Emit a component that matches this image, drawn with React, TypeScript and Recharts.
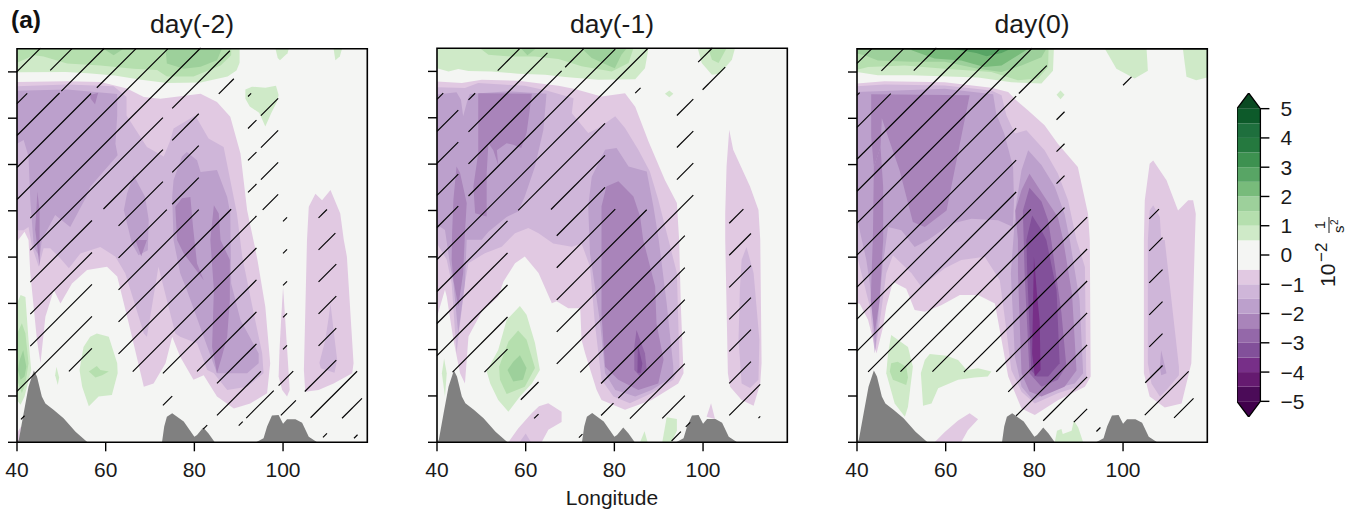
import React from 'react';
import { ScatterChart, Scatter, XAxis, YAxis } from 'recharts';

type Pt = [number, number];
type Contour = [string, Pt[]];
type HatchRow = [number, number, number];

const FONT = '"Liberation Sans", Arial, sans-serif';
const longitudeTicks = [40, 60, 80, 100];
const levelTicks = [0, 1, 2, 3, 4, 5, 6, 7, 8];
const lonDomain: Pt = [40, 119];
const levDomain: Pt = [0, 8.5];
const titles = ['day(-2)', 'day(-1)', 'day(0)'];

const ZERO = '#f4f5f3';
const G1 = '#cfeac8', G2 = '#b5dfae', G3 = '#9dd09b', G4 = '#78bb7b', G5 = '#58a565';
const N1 = '#e1c9e2', N2 = '#cfb6d9', N3 = '#bca0cc', N4 = '#a984ba', N5 = '#9468a9', N6 = '#82509a', N7 = '#772f88';
const TERRAIN = '#808080';

const colorbarLevels = [-5, -4.5, -4, -3.5, -3, -2.5, -2, -1.5, -1, -0.5, 0.5, 1, 1.5, 2, 2.5, 3, 3.5, 4, 4.5, 5];
const colorbarColors = ['#4b0b58', '#651a70', '#772f88', '#82509a', '#9468a9', '#a984ba', '#bca0cc', '#cfb6d9', '#e1c9e2', '#f4f5f3', '#cfeac8', '#b5dfae', '#9dd09b', '#78bb7b', '#58a565', '#3d9150', '#25793f', '#1e6f3d', '#0d5a2a'];
const colorbarTicks = [-5, -4, -3, -2, -1, 0, 1, 2, 3, 4, 5];

const terrain: Pt[][] = [
  [[40, 0], [40.4, 0.05], [41.5, 0.63], [42.6, 1.2], [43.8, 1.55], [44.5, 1.42], [45.6, 0.99], [46.4, 0.84], [48.3, 0.7], [50.5, 0.52], [53.2, 0.23], [55.9, 0]],
  [[72.7, 0], [73.2, 0.34], [73.8, 0.55], [75, 0.63], [77.6, 0.45], [78.7, 0.3], [80, 0.12], [80.6, 0.16], [82, 0.32], [83.2, 0.19], [84.6, 0]],
  [[93.9, 0], [95.6, 0.09], [96.4, 0.34], [97.5, 0.58], [99, 0.59], [100, 0.4], [100.9, 0.5], [102.8, 0.5], [104.3, 0.42], [105.8, 0.12], [107.7, 0]],
];

const day2Contours: Contour[] = [
  [G1, [[40, 8.5], [90.2, 8.5], [90.2, 8.2], [89.5, 8.03], [87.5, 7.9], [81.4, 7.77], [73.8, 7.76], [68, 7.83], [62, 7.92], [56, 7.97], [51, 8], [40, 7.99]]],
  [G2, [[40, 8.5], [88.3, 8.5], [88.3, 8.36], [85.9, 8.14], [79.8, 7.9], [73.8, 7.9], [71.6, 8.04], [66.3, 8.07], [58.8, 8.14], [51.3, 8.18], [46, 8.33], [43.8, 8.36], [40, 8.2]]],
  [G3, [[73.5, 8.5], [73.8, 8.18], [77.6, 8.07], [81.4, 8.11], [85.1, 8.25], [86.2, 8.5]]],
  [G3, [[59.5, 8.5], [61.8, 8.36], [64, 8.5]]],
  [G1, [[98.3, 8.5], [101.3, 8.5], [101, 8.4], [99.3, 8.25], [98.8, 8.3]]],
  [G1, [[111.4, 8.5], [113.3, 8.5], [112.8, 8.33], [111.8, 8.25]]],
  [G1, [[91.5, 7.62], [93, 7.68], [96, 7.66], [98.4, 7.7], [99, 7.5], [98.6, 7.35], [97.3, 7.1], [96, 6.82], [95.4, 6.95], [94.6, 7.12], [92.5, 7.25], [91.5, 7.42]]],
  [N1, [[40, 7.78], [51.3, 7.8], [58.8, 7.78], [64.8, 7.64], [68.6, 7.46], [72.3, 7.42], [81.4, 7.53], [85.1, 7.35], [88.1, 7.03], [90.4, 6.24], [91.9, 5.01], [93.8, 4.15], [94.3, 3.9], [96, 2.93], [97.1, 1.71], [96.4, 1.06], [92.6, 0.84], [88.9, 0.73], [85.1, 0.99], [82.1, 1.45], [79.8, 1.35], [76.8, 1.85], [75, 2.28], [73.5, 1.71], [70.8, 1.27], [68.6, 1.2], [65.2, 2.57], [62.6, 3.58], [60.3, 3.79], [55.8, 3.72], [52.4, 3.43], [49.8, 3], [48.3, 3.29], [46.4, 2.71], [45.3, 1.71], [44.5, 2.21], [43, 3.65], [42.6, 4.37], [41.7, 4.55], [40, 4.33]]],
  [N1, [[40, 0], [40.6, 0], [40.9, 0.34], [40, 0.2]]],
  [N1, [[100, 3.36], [100.5, 2.64], [101.5, 1.13], [100.9, 0.99], [99.8, 1.13], [99, 1.42], [99.2, 1.99], [99.6, 2.71]]],
  [N1, [[105.8, 5.09], [107.3, 5.37], [108.8, 5.23], [110.7, 5.45], [112.9, 4.94], [113.7, 4.37], [114.4, 4.01], [115.9, 1.71], [115.6, 1.49], [111.4, 1.27], [108, 1.13], [105, 1.09], [104.7, 1.56], [105.4, 4.37]]],
  [N2, [[110.7, 3], [111.4, 2.42], [112.2, 1.78], [111.6, 1.5], [108.5, 1.6], [108.2, 1.72], [109.5, 2.2], [110.3, 2.7]]],
  [N2, [[40, 7.69], [51.3, 7.73], [61.8, 7.69], [64.7, 7.46], [64.7, 7.06], [69.3, 6.38], [73.1, 6.17], [74.6, 6.53], [75.3, 6.78], [80.2, 7.06], [83.2, 6.56], [86.6, 6.38], [88.1, 5.66], [89.6, 4.94], [90.8, 4.01], [93.4, 2.78], [95.3, 1.92], [95.6, 1.49], [91.9, 1.2], [87.4, 1.13], [84.4, 1.49], [82.9, 1.56], [80.6, 2.14], [76.8, 2.28], [75.7, 2.35], [73.8, 3.07], [71.9, 3.79], [69.3, 2.28], [68.6, 2.35], [66.3, 3.07], [64.4, 3.65], [62.2, 4.01], [58.8, 4.22], [54.3, 4.08], [51.7, 3.76], [49.8, 3.97], [47.5, 4.19], [46, 4.19], [44.9, 3.79], [43.4, 4.22], [42.6, 4.65], [41.5, 4.58], [40, 4.58]]],
  [N3, [[40, 7.59], [51.3, 7.62], [62.6, 7.52], [62.6, 7.06], [62.2, 6.45], [62.7, 6.2], [56.5, 5.52], [55.6, 5.3], [52, 4.65], [48.6, 4.91], [45.6, 4.37], [45.1, 4], [43.8, 4.22], [43, 5.23], [42.6, 6.17], [41.5, 6.53], [40, 6.45]]],
  [N3, [[75, 5.3], [75.3, 5.66], [77.2, 6.17], [78.3, 6.27], [80.6, 6.09], [81.4, 5.84], [85.1, 5.88], [87.4, 5.3], [88.1, 4.94], [88.3, 3.43], [90.4, 2.64], [94.5, 1.92], [94.5, 1.71], [91.9, 1.49], [85.1, 1.49], [83.2, 1.99], [78.3, 3.29], [76.8, 3.65], [75.3, 4.37]]],
  [N3, [[66.3, 5.77], [68.9, 5.3], [69.7, 4.8], [69.5, 4.15], [67.4, 4.04], [65.9, 4.3], [64.1, 5.01], [64.8, 5.37]]],
  [N4, [[75.7, 5.09], [77.2, 5.27], [79.1, 5.3], [79.7, 4.65], [80.6, 3.86], [82.1, 3.5], [77.6, 4.08], [76.1, 4.37]]],
  [N4, [[84.4, 5.12], [85.5, 4.94], [85.9, 4.37], [88, 3.94], [88, 3.07], [87.4, 2.28], [86.2, 1.85], [85.1, 1.49], [84, 2.06], [84.4, 3.29], [83.6, 4.37]]],
  [N4, [[56.5, 7.5], [58.3, 7.55], [57.6, 7.3], [56.6, 7.42]]],
  [N4, [[44.6, 5.41], [45.1, 5], [45.1, 3.8], [44.1, 4.6]]],
  [N4, [[66.7, 4.37], [69.3, 4.37], [68, 4.02]]],
  [G1, [[40.8, 3.18], [41.9, 3.14], [42.6, 2.21], [43.2, 1.56], [41.7, 0.99], [40.8, 0.81], [40, 0.91], [40, 3]]],
  [G2, [[41.1, 2.57], [41.9, 2.35], [42.6, 1.71], [41.9, 1.27], [41.1, 1.06], [40, 1.35], [40, 2.35]]],
  [G3, [[41.4, 1.99], [42.1, 1.63], [41.7, 1.42], [40.8, 1.35], [40.2, 1.56], [40.6, 1.78]]],
  [G1, [[48.9, 1.63], [49.5, 1.4], [49.2, 1.24], [48.6, 1.45]]],
  [G1, [[58, 2.35], [60.7, 2.28], [62.6, 1.71], [62.7, 1.49], [61.4, 1.02], [58.4, 0.99], [56.2, 0.78], [54.7, 1.2], [54.1, 1.56], [55, 2.06], [56.5, 2.28]]],
  [G2, [[56.2, 1.53], [58, 1.65], [58.8, 1.56], [60.7, 1.53], [59.2, 1.45], [57.7, 1.4]]],
];

const day1Contours: Contour[] = [
  [G1, [[40, 8.5], [87.7, 8.5], [86.9, 8.07], [84.7, 7.83], [76.4, 7.82], [68.9, 7.88], [64.4, 7.93], [58.3, 7.95], [52.3, 8], [47.1, 8.01], [44.8, 8.05], [42.6, 8], [40, 8.07]]],
  [G2, [[49.7, 8.5], [51.6, 8.36], [56.8, 8.32], [62.1, 8.32], [67.4, 8.27], [72.6, 8.11], [79.4, 8], [83.2, 8.18], [84.3, 8.5]]],
  [G3, [[58.9, 8.5], [60.4, 8.35], [62.4, 8.5]]],
  [G3, [[72.6, 8.5], [74.9, 8.29], [79, 8.11], [80.1, 8.07], [81.6, 8.36], [82.8, 8.5]]],
  [G1, [[98.8, 8.5], [99.7, 8.18], [102, 7.93], [103.8, 7.95], [106.5, 8.25], [107.2, 8.5]]],
  [G2, [[101.2, 8.5], [102, 8.25], [103.5, 8.18], [105.3, 8.5]]],
  [G1, [[91.4, 7.52], [92.4, 7.59], [93.3, 7.52], [92.4, 7.44]]],
  [N1, [[40, 7.78], [45.6, 7.75], [50.1, 7.82], [58.3, 7.8], [67.4, 7.69], [71.1, 7.62], [77.1, 7.46], [82.4, 7.53], [84.7, 7.24], [87.7, 6.49], [91.4, 5.66], [94.1, 5.16], [94.6, 4.37], [95, 2.93], [95.6, 1.49], [94.4, 1.27], [88.4, 0.91], [82.4, 0.7], [77.1, 0.91], [76, 1.13], [73.4, 1.92], [72.6, 2.21], [72.3, 2.89], [69.6, 2.89], [67, 3.04], [65.9, 3], [62.9, 3.65], [59.8, 4.01], [57.6, 3.86], [55, 3.47], [53.8, 3.14], [50.1, 2.82], [47.1, 2.28], [46.3, 1.27], [45.2, 1.49], [43.7, 2.21], [42.2, 3.14], [41.8, 3.29], [40, 2.71]]],
  [N1, [[105.9, 6.74], [106.8, 6.31], [110.6, 5.52], [112.5, 5.01], [112.9, 4.37], [113.2, 1.71], [112.9, 1.27], [111.4, 0.79], [108.7, 0.91], [106.1, 1.2], [105.6, 1.49], [105, 4.37], [105, 4.94], [105.3, 5.95]]],
  [N2, [[109.8, 4.21], [111.4, 3.65], [112.7, 2.21], [112.5, 1.35], [110.6, 1.17], [108.7, 1.27], [108, 2.21], [108.3, 3.29], [108.7, 3.94]]],
  [N1, [[56.1, 0], [58.3, 0.3], [61.4, 0.63], [63, 0.78], [65.1, 0.84], [68.1, 0.66], [68.1, 0.44], [65.1, 0.27], [63.6, 0]]],
  [N2, [[58.6, 0], [60, 0.19], [61.2, 0]]],
  [N1, [[100.8, 0.55], [101.8, 0.84], [102.7, 0.5]]],
  [N2, [[40, 7.66], [46.3, 7.64], [49.3, 7.75], [59.8, 7.69], [64.7, 7.59], [70.8, 7.42], [70.4, 7.1], [74.1, 6.67], [76.4, 6.78], [80.2, 7.03], [82.4, 6.78], [85.4, 6.31], [88, 5.84], [89.9, 5.23], [92.2, 4.37], [94.1, 3.65], [94.7, 1.63], [93.3, 1.35], [88.4, 1.06], [83.5, 0.84], [79.8, 0.99], [77.1, 1.35], [75.6, 2.57], [74.5, 3.79], [72.6, 4.29], [70.4, 4.22], [66.2, 4.29], [62.9, 4.51], [60.6, 4.62], [57.6, 4.51], [54.6, 4.22], [50.8, 4.08], [47.1, 3.86], [46.3, 3.43], [44.4, 1.92], [43.3, 3.43], [42.2, 3.94], [40, 4.29]]],
  [N3, [[40, 7.5], [44.4, 7.55], [45.4, 7.39], [45.9, 7.03], [46.9, 7.39], [47.4, 7.51], [56.1, 7.57], [64.7, 7.52], [64, 6.74], [62.1, 5.95], [59.8, 5.3], [58.3, 4.98], [55.7, 4.86], [51.6, 4.54], [50.1, 4.37], [46.7, 4.37], [46.3, 3.43], [44.8, 2.35], [43.7, 3.43], [42.9, 3.86], [41.8, 4.58], [40.7, 4.65], [40, 4.58]]],
  [N4, [[49.3, 7.53], [61.4, 7.52], [60.2, 6.67], [59, 6.35], [57.2, 6.42], [55.7, 6.45], [53.5, 6.3], [53.8, 5.98], [52.7, 6.3], [51.6, 6.45], [51.2, 5.81], [51.2, 4.87], [48.6, 4.94], [48.2, 5.52], [49.3, 6.24]]],
  [N4, [[44.4, 5.95], [45.2, 5.81], [46.7, 5.16], [46.3, 4.51], [45.9, 3.65], [44.8, 2.93], [43.7, 3.5], [43.3, 3.94], [43.4, 4.5], [43.7, 5.23]]],
  [N3, [[74.1, 5.09], [74.9, 5.73], [77.9, 6.31], [80.5, 6.35], [83.2, 5.95], [87.3, 5.84], [88.8, 5.09], [90, 4.37], [91.8, 3], [93.3, 1.63], [93.3, 1.42], [88.4, 1.13], [84.7, 0.99], [80.2, 1.13], [77.9, 1.49], [76.8, 2.57], [74.5, 4.08]]],
  [N4, [[77.1, 5.09], [78.2, 5.52], [80.9, 5.63], [84.3, 5.3], [85.8, 4.87], [86.5, 4.37], [89.2, 3.36], [89.5, 2.57], [91.1, 1.78], [89.9, 1.27], [85.4, 1.13], [80.9, 1.35], [77.9, 1.63], [77.1, 2.78], [77.1, 4.37]]],
  [N5, [[85, 2.42], [86.9, 1.92], [87.3, 1.56], [85.8, 1.42], [84.5, 1.56], [84.5, 2.06]]],
  [N6, [[85.3, 2.1], [86.3, 1.7], [86, 1.5], [85.2, 1.5]]],
  [G1, [[58.7, 2.94], [60.2, 2.75], [62.1, 2.14], [63.2, 1.56], [61.4, 1.27], [58.7, 0.99], [56.1, 0.66], [53.8, 0.91], [52, 1.27], [51.2, 1.53], [53.8, 1.99], [55.7, 2.64]]],
  [G2, [[58.3, 2.41], [60.2, 2.21], [62.1, 1.6], [59.8, 1.2], [55.7, 1.04], [54.2, 1.35], [54, 1.63], [56.1, 2.17]]],
  [G3, [[58.7, 1.88], [60.2, 1.6], [59.4, 1.35], [57.2, 1.31], [55.9, 1.56], [57.2, 1.74]]],
  [G1, [[41.6, 1.81], [42.2, 1.49], [41.8, 0.99], [41.1, 1.49]]],
  [G1, [[85.8, 0], [86.8, 0.24], [87.5, 0]]],
  [G1, [[90.8, 0], [91.8, 0.54], [94.1, 0.5], [94.1, 0.25], [92.9, 0]]],
];

const day0Contours: Contour[] = [
  [G1, [[40, 8.5], [84.4, 8.5], [84.2, 8.03], [81.6, 7.75], [74.8, 7.78], [67.3, 7.88], [52.3, 7.93], [44.7, 7.93], [40, 8]]],
  [G2, [[40, 8.5], [83.2, 8.5], [83.1, 8.11], [80.8, 7.86], [76.3, 7.82], [70.3, 8], [59.8, 8.07], [50.8, 8.14], [42.5, 8.11], [40, 8.05]]],
  [G3, [[40, 8.5], [82.7, 8.5], [81.6, 8.32], [77.1, 8.14], [72.6, 8], [67.3, 8.07], [59.8, 8.22], [52.3, 8.22], [44.7, 8.25], [41.7, 8.36], [40, 8.4]]],
  [G4, [[52.3, 8.47], [57.5, 8.29], [63.5, 8.25], [68.7, 8.11], [72.6, 8.14], [77.6, 8.44], [78.6, 8.5], [52.3, 8.5]]],
  [G5, [[61.3, 8.5], [66.9, 8.41], [69.2, 8.34], [72.6, 8.41], [74.7, 8.5]]],
  [G1, [[95.9, 8.5], [98.5, 8.07], [102.6, 7.86], [105.6, 8.03], [105.3, 8.5]]],
  [G1, [[113.5, 8.5], [114.3, 7.9], [116.5, 7.82], [119, 7.88], [119, 8.5]]],
  [G1, [[85.9, 7.6], [86.8, 7.51], [85.9, 7.41], [85, 7.51]]],
  [N1, [[40, 7.75], [46.2, 7.8], [59.8, 7.78], [70.3, 7.66], [74.1, 7.57], [75.9, 7.39], [78.6, 7.17], [82.3, 6.85], [85.3, 6.45], [89.8, 5.95], [92.1, 4.94], [92.5, 4.37], [92.7, 1.42], [91.4, 1.2], [85.3, 0.91], [80.1, 0.59], [77.1, 0.73], [74.1, 1.42], [72.6, 2.21], [71.1, 3], [67.3, 3.18], [63.2, 3.18], [59, 2.96], [55.3, 2.82], [53, 2.86], [51.1, 3.32], [48.1, 3.47], [46.6, 2.93], [45.9, 2.5], [44.4, 1.92], [42.5, 2.64], [40.6, 3], [40, 3]]],
  [N1, [[106.8, 6.09], [109.8, 5.66], [112.4, 5.01], [114.7, 5.23], [115.8, 5.23], [116.4, 4.94], [116.2, 4.37], [115.4, 1.71], [113.2, 0.84], [109.4, 0.75], [106, 0.99], [104.7, 1.49], [104.7, 4.37], [104.9, 5.23], [106, 6.02]]],
  [N2, [[106, 5.01], [106.8, 5.12], [108.3, 4.87], [108.6, 4.37], [109.4, 4.37], [112.6, 1.63], [112.6, 1.45], [109.8, 1.13], [108.3, 0.99], [106.4, 1.27], [105.6, 1.71], [105.6, 4.37]]],
  [N3, [[108.6, 1.99], [109.8, 1.49], [108.6, 1.45], [108.3, 1.63]]],
  [N1, [[57.5, 0], [59.8, 0.22], [62.8, 0.47], [65.4, 0.63], [67.3, 0.5], [65, 0.26], [63.5, 0]]],
  [N2, [[40, 7.69], [46.2, 7.73], [59.8, 7.71], [70.3, 7.6], [72.6, 7.5], [73.7, 7.06], [75.6, 6.67], [78.2, 6.74], [82.3, 6.31], [85.3, 5.81], [87.6, 5.23], [89.5, 4.37], [91.4, 3.79], [91.7, 1.42], [89.8, 1.2], [85.3, 1.06], [80.1, 0.84], [77.1, 1.09], [74.8, 1.56], [73.3, 2.71], [72.2, 3.5], [68.8, 4.01], [63.5, 3.94], [59.8, 3.76], [54.5, 3.36], [52.3, 3.65], [48.1, 4.04], [46.6, 3.65], [45.1, 2.57], [44, 1.92], [42.9, 2.93], [41, 3.65], [40, 4.04]]],
  [N3, [[40, 7.57], [59.8, 7.64], [70.7, 7.52], [71.4, 7.1], [73.2, 6.67], [75.2, 5.95], [75.4, 5.23], [75.2, 4.65], [71.8, 4.8], [65.8, 4.83], [61.3, 4.72], [56, 4.37], [53, 4.22], [50, 4.58], [47, 4.65], [46.2, 4.08], [45.9, 3.94], [44.1, 1.99], [42.9, 3.43], [42.1, 3.94], [40.6, 4.58], [40, 4.87]]],
  [N3, [[75.8, 5.09], [77.1, 5.88], [78.6, 6.31], [81.6, 5.99], [84.6, 5.52], [86.8, 4.94], [88, 4.37], [90.2, 3.07], [91, 1.49], [89.1, 1.27], [84.6, 1.17], [79.7, 0.91], [77.1, 1.2], [75.6, 1.85], [74.7, 3.65]]],
  [N4, [[43.2, 7.52], [65.4, 7.5], [63.2, 6.45], [60.2, 5.01], [55.3, 4.65], [52.6, 4.76], [49.6, 5.88], [47, 6.6], [45.6, 7], [45.3, 6.38], [43.8, 5.95], [43.2, 6.6]]],
  [N4, [[45.3, 6.38], [45.9, 5.52], [45.9, 4.37], [45.1, 3.07], [44, 2.35], [43.1, 3.07], [43.6, 4.5], [43.8, 5.95]]],
  [N4, [[75.7, 5], [77.1, 5.45], [78.9, 5.8], [82.3, 5.3], [85.3, 4.87], [86.5, 4.37], [88.5, 3.2], [89.5, 1.55], [86.8, 1.2], [81.6, 0.99], [78.9, 1.1], [77.1, 1.49], [76.3, 3.65], [76.3, 4.37]]],
  [N5, [[77.4, 5], [78.9, 5.5], [81.6, 5.2], [83.1, 4.8], [83.8, 4.37], [86.1, 2.8], [87.2, 1.65], [85.3, 1.35], [81.6, 1.2], [78.9, 1.49], [77.8, 3.65], [77.6, 4.37]]],
  [N6, [[78.2, 4.37], [79.5, 4.9], [81.5, 4.6], [82.7, 4.37], [85, 3.29], [85.7, 1.71], [83.1, 1.42], [80.5, 1.42], [79.3, 1.55], [78.4, 3.65]]],
  [N7, [[79.9, 4.01], [80.6, 3.2], [81.2, 2.6], [81.4, 1.56], [80.1, 1.42], [79.5, 1.92], [79.7, 3]]],
  [G1, [[47.7, 2.32], [51.5, 2.06], [52.6, 1.63], [51.5, 0.77], [50.8, 0.55], [48.5, 0.84], [46.6, 1.49], [47, 1.92]]],
  [G2, [[47.7, 1.71], [49.2, 1.74], [51.1, 1.63], [51.5, 1.4], [51.1, 1.24], [48.1, 1.35], [47.4, 1.53]]],
  [G1, [[56.4, 1.91], [60.2, 1.87], [62.8, 1.78], [64.7, 1.56], [67.3, 1.6], [70.3, 1.53], [69.5, 1.42], [66.5, 1.4], [62.8, 1.35], [58.3, 1.17], [56.8, 0.84], [54.9, 0.79], [54.4, 1.49], [55.3, 1.78]]],
  [G1, [[84.6, 0], [85.1, 0.25], [86.1, 0.29], [86.4, 0.18], [88.4, 0.25], [88.9, 0.47], [89.9, 0.32], [91, 0]]],
];

// hatch rows: [family number, start longitude, end longitude]
const hatchSlope = 0.0957;
const hatchStep = 0.6906;
const day2HatchBase = 8.007;
const day2Hatch: HatchRow[] = [
  [0, 40, 45.3], [1, 40, 42.3], [1, 47.5, 52.4], [2, 40, 49.6], [2, 50, 59.7], [3, 40, 56.7], [3, 58, 66.9], [4, 40, 74], [5, 43, 81.4],
  [6, 43, 72.9], [6, 75, 88], [7, 43, 56.9], [7, 59.5, 72.9], [7, 75, 81], [7, 85.5, 88.9], [8, 43, 56.9], [8, 62.9, 72.9], [8, 75, 81], [8, 92.1, 92.8],
  [9, 43, 56.9], [9, 62.9, 73.8], [9, 75, 81], [9, 92.1, 94], [9, 95, 98.9], [10, 40, 56.9], [10, 62.9, 81], [10, 92.1, 94], [10, 95, 98.9],
  [11, 40.9, 41.7], [11, 51.7, 56.9], [11, 62.9, 88.3], [11, 92.1, 94], [11, 95, 98.9], [12, 62.9, 94], [12, 95.4, 98.9], [13, 66.1, 94], [13, 100, 100.9],
  [14, 72.9, 94], [14, 100, 100.9], [14, 108, 109.9], [15, 72.9, 75], [15, 80.6, 94], [15, 100, 100.9], [15, 108, 111.8], [16, 85.1, 94], [16, 100, 100.9], [16, 108, 112],
  [17, 82, 82.9], [17, 85.1, 95], [17, 100, 100.9], [17, 108, 112], [18, 90, 90.9], [18, 91.7, 97.9], [18, 99, 102.3], [18, 108, 112],
  [19, 99.5, 102.9], [19, 104.9, 112], [20, 106.2, 116.7], [21, 109, 109.9], [21, 113.3, 117.8], [22, 116, 116.8],
];
const day1HatchBase = 7.396;
const day1Hatch: HatchRow[] = [
  [0, 40, 41.4], [1, 40, 44.8], [1, 47.1, 48.6], [1, 53.7, 58.7], [2, 40, 44.8], [2, 47.1, 64.9], [3, 40, 44.8], [3, 47.1, 68.1], [3, 68.9, 73.2],
  [4, 40, 44.8], [4, 47.1, 80.2], [5, 40, 87.5], [6, 40, 55.9], [6, 58.3, 77.9], [6, 84.7, 85.9], [7, 40, 55.9], [7, 65.7, 77.9], [7, 98.9, 102.1],
  [8, 40, 55.9], [8, 67, 77.9], [8, 94.1, 97.8], [8, 99.9, 105], [9, 43.5, 55.9], [9, 67, 80.2], [9, 94.1, 97.8], [10, 50.7, 55.9], [10, 67, 87.3], [10, 94.1, 97.8],
  [11, 67, 97.8], [12, 58.9, 62.9], [12, 67, 95.9], [13, 61.9, 62.9], [13, 72.3, 95.9], [13, 105.9, 109.1], [14, 77, 95.9], [14, 105.9, 110.8],
  [15, 72, 72.8], [15, 77, 79.8], [15, 80.9, 95.9], [15, 105.9, 110.8], [16, 83.5, 95.9], [16, 105.9, 110.8], [17, 90.8, 95.9], [17, 105.9, 110.8],
  [18, 92.9, 95], [18, 96.1, 97.1], [18, 105.9, 110.8], [19, 105.9, 112.9], [20, 112.5, 112.9],
];
const day0HatchBase = 8.187;
const day0Hatch: HatchRow[] = [
  [0, 40, 43.4], [1, 40, 40.6], [1, 45.5, 50.6], [2, 40, 47.6], [2, 52.8, 57.9], [3, 40, 65], [4, 40, 72.2], [5, 40, 79.5], [6, 40, 75.9], [6, 76.5, 82.8],
  [7, 40, 75.9], [8, 40, 75.9], [8, 85, 86.8], [9, 40, 75.9], [9, 85, 86.8], [9, 100, 101.9], [10, 42.5, 79.2], [10, 85, 86.8], [11, 49.8, 86.8],
  [12, 57, 91.9], [13, 64.1, 91.9], [14, 71.4, 91.9], [14, 105.9, 108.1], [15, 74.1, 91.9], [15, 105.9, 108.9], [16, 75.9, 91.9], [16, 105.9, 108.9],
  [17, 82, 91.9], [17, 105.9, 108.9], [18, 88.9, 91.9], [18, 105.9, 108.9], [19, 94, 94.9], [19, 105, 108.9], [20, 104.9, 114.8], [21, 111.5, 115.9],
];

const NoPoint = () => null;
const toPoints = (poly: Pt[]) => poly.map(([lon, lev]) => ({ lon, lev }));

const polygon = (poly: Pt[], fill: string, key: string) => (
  <Scatter key={key} data={toPoints(poly)} shape={NoPoint} isAnimationActive={false} legendType="none"
    line={{ fill, stroke: 'none' }} />
);
const outline = (poly: Pt[], stroke: string, width: number, key: string) => (
  <Scatter key={key} data={toPoints(poly)} shape={NoPoint} isAnimationActive={false} legendType="none"
    line={{ fill: 'none', stroke, strokeWidth: width, strokeLinejoin: 'miter' }} />
);

const fullBox: Pt[] = [[40, 0], [119, 0], [119, 8.5], [40, 8.5], [40, 0]];

function Panel({ left, contours, hatch, base }: { left: number; contours: Contour[]; hatch: HatchRow[]; base: number }) {
  return (
    <div style={{ position: 'absolute', left: left - 17, top: 0 }}>
      <ScatterChart width={376} height={514} margin={{ top: 48, right: 8.7, bottom: 41.7, left: 0 }}>
        <XAxis type="number" dataKey="lon" domain={lonDomain} ticks={longitudeTicks} interval={0} height={30}
          axisLine={false} tickSize={9} tickMargin={11} tickLine={{ stroke: '#000', strokeWidth: 1.4 }}
          tick={{ fontSize: 21, fill: '#1a1a1a', fontFamily: FONT }} />
        <YAxis type="number" dataKey="lev" domain={levDomain} ticks={levelTicks} interval={0} width={17}
          axisLine={false} tickSize={9} tickLine={{ stroke: '#000', strokeWidth: 1.4 }}
          tickFormatter={() => ''} />
        {polygon(fullBox, ZERO, 'zero')}
        {contours.map(([fill, poly], i) => polygon(poly, fill, `c${i}`))}
        {terrain.map((poly, i) => polygon(poly, TERRAIN, `t${i}`))}
        {hatch.map(([row, a, b], i) => {
          const start = base - hatchStep * row;
          const seg: Pt[] = [[a, start + hatchSlope * (a - 40)], [b, start + hatchSlope * (b - 40)]];
          return outline(seg, '#000', 1.15, `h${i}`);
        })}
        {outline(fullBox, '#000', 1.6, 'frame')}
      </ScatterChart>
    </div>
  );
}

const barTop = 5.535;
const cbBox: Pt[] = [[0, -5], [0.5, -barTop], [1, -5], [1, 5], [0.5, barTop], [0, 5], [0, -5]];

function Colorbar() {
  return (
    <div style={{ position: 'absolute', left: 1237.3, top: 93.3 }}>
      <ScatterChart width={80} height={324} margin={{ top: 0, right: 0, bottom: 0, left: 0 }}>
        <XAxis type="number" dataKey="lon" domain={[0, 1]} hide />
        <YAxis type="number" dataKey="lev" orientation="right" domain={[-barTop, barTop]} ticks={colorbarTicks} interval={0} width={56.6}
          axisLine={false} tickSize={9} tickMargin={11} tickLine={{ stroke: '#000', strokeWidth: 1.4 }}
          tick={{ fontSize: 21, fill: '#1a1a1a', fontFamily: FONT, textAnchor: 'start' }}
          tickFormatter={(v: number) => String(v).replace('-', '\u2212')} />
        {colorbarColors.map((c, i) => polygon([[0, colorbarLevels[i]], [1, colorbarLevels[i]], [1, colorbarLevels[i + 1]], [0, colorbarLevels[i + 1]]], c, `b${i}`))}
        {polygon([[0, 5], [1, 5], [0.5, barTop]], '#0a4a22', 'top')}
        {polygon([[0, -5], [1, -5], [0.5, -barTop]], '#40004b', 'bottom')}
        {outline(cbBox, '#000', 1.3, 'cbframe')}
      </ScatterChart>
    </div>
  );
}

const rotated = (x: number, y: number) => `rotate(-90 ${x} ${y})`;

export default function App() {
  return (
    <div style={{ position: 'absolute', left: 0, top: 0, width: 1357, height: 514, background: '#fff', overflow: 'hidden' }}>
      <Panel left={16.7} contours={day2Contours} hatch={day2Hatch} base={day2HatchBase} />
      <Panel left={437} contours={day1Contours} hatch={day1Hatch} base={day1HatchBase} />
      <Panel left={857.3} contours={day0Contours} hatch={day0Hatch} base={day0HatchBase} />
      <Colorbar />
      <svg width={1357} height={514} style={{ position: 'absolute', left: 0, top: 0, pointerEvents: 'none' }} fontFamily={FONT} fill="#1a1a1a">
        <text x={11} y={28} fontSize={24.5} fontWeight="bold" fill="#111">(a)</text>
        <text x={192} y={33} fontSize={26.5} textAnchor="middle">{titles[0]}</text>
        <text x={612} y={33} fontSize={26.5} textAnchor="middle">{titles[1]}</text>
        <text x={1032} y={33} fontSize={26.5} textAnchor="middle">{titles[2]}</text>
        <text x={612} y={505} fontSize={21} textAnchor="middle">Longitude</text>
        <text x={1335} y={287} fontSize={21} transform={rotated(1335, 287)}>10</text>
        <text x={1327} y={262} fontSize={17} transform={rotated(1327, 262)}>{'\u22122'}</text>
        <text x={1325} y={225} fontSize={15} textAnchor="middle" transform={rotated(1325, 225)}>1</text>
        <line x1={1329} x2={1329} y1={217} y2={233} stroke="#1a1a1a" strokeWidth={1} />
        <text x={1344} y={233} fontSize={15} transform={rotated(1344, 233)}>s</text>
        <text x={1338} y={225} fontSize={10} transform={rotated(1338, 225)}>2</text>
      </svg>
    </div>
  );
}
